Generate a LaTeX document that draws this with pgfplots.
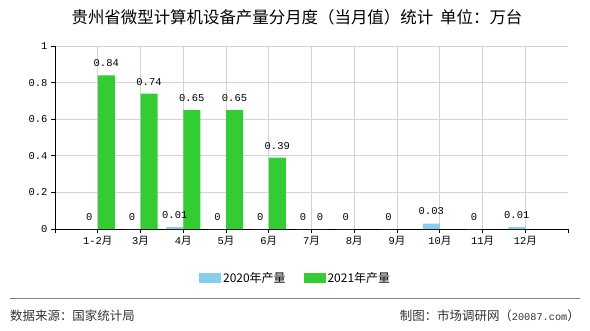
\documentclass[border=0pt]{standalone}
\usepackage{fontspec}
\usepackage{pgfplots}
\pgfplotsset{compat=1.18}
\newfontfamily\cjk{Noto Sans CJK SC}
\setmonofont{Liberation Mono}
\definecolor{cA}{HTML}{87CEEB}
\definecolor{cB}{HTML}{33CC33}
\definecolor{gridc}{HTML}{D3D3D3}
\newcommand{\mm}[1]{{\ttfamily #1}{\cjk 月}}
\begin{document}
\begin{tikzpicture}[x=1bp,y=1bp]
\path[use as bounding box, fill=white] (0,0) rectangle (590,330);
\begin{axis}[
  at={(55bp,101bp)}, anchor=south west,
  scale only axis, width=513bp, height=183bp,
  xmin=0, xmax=12, ymin=0, ymax=1,
  axis lines*=left,
  axis line style={black, line width=0.9bp},
  ybar, bar width=17bp,
  xtick={1,...,11},
  xticklabels={\mm{1-2},\mm{3},\mm{4},\mm{5},\mm{6},\mm{7},\mm{8},\mm{9},\mm{10},\mm{11},\mm{12}},
  extra x ticks={0,12}, extra x tick labels={}, extra x tick style={grid=none},
  ytick={0,0.2,0.4,0.6,0.8,1},
  yticklabels={0,0.2,0.4,0.6,0.8,1},
  tick label style={font=\fontsize{10.5}{12}\selectfont\ttfamily},
  xmajorgrids, ymajorgrids,
  grid style={draw=gridc, line width=0.9bp},
  tick align=outside, major tick length=4bp,
  tick style={black, line width=0.9bp},
  legend image code/.code={\fill[#1] (0bp,-5bp) rectangle (22bp,5bp);},
  legend columns=2,
  legend style={draw=none, fill=none, at={(0.469,-0.268)}, anchor=center,
    font=\cjk\fontsize{12}{14}\selectfont,
    /tikz/every even column/.append style={column sep=16bp}},
  every node near coord/.append style={font=\fontsize{10.5}{12}\selectfont\ttfamily, anchor=center, yshift=12bp},
]
\addplot[fill=cA, draw=none, bar shift=-8.5bp, nodes near coords, point meta=explicit symbolic]
  coordinates {(1,0) [0] (2,0) [0] (3,0.01) [0.01] (4,0) [0] (5,0) [0] (6,0) [0] (7,0) [0] (8,0) [0] (9,0.03) [0.03] (10,0) [0] (11,0.01) [0.01]};
\addlegendentry{2020年产量}
\addplot[fill=cB, draw=none, bar shift=8.5bp, nodes near coords, point meta=explicit symbolic]
  coordinates {(1,0.84) [0.84] (2,0.74) [0.74] (3,0.65) [0.65] (4,0.65) [0.65] (5,0.39) [0.39] (6,0) [0]};
\addlegendentry{2021年产量}
\end{axis}
\node[font=\cjk\fontsize{16.5}{18}\selectfont, anchor=center] at (297,313) {贵州省微型计算机设备产量分月度（当月值）统计\hspace{7bp}单位：万台};
\draw[gray, line width=0.9bp] (10,32) -- (580,32);
\node[font=\cjk\fontsize{12.5}{14}\selectfont, text=black!80, anchor=west, inner sep=0pt] at (10,14) {数据来源：国家统计局};
\node[font=\cjk\fontsize{12.5}{14}\selectfont, text=black!80, anchor=east, inner sep=0pt] at (580,14) {制图：市场调研网（{\ttfamily\fontsize{10.3}{12}\selectfont 20087.com}）};
\end{tikzpicture}
\end{document}
